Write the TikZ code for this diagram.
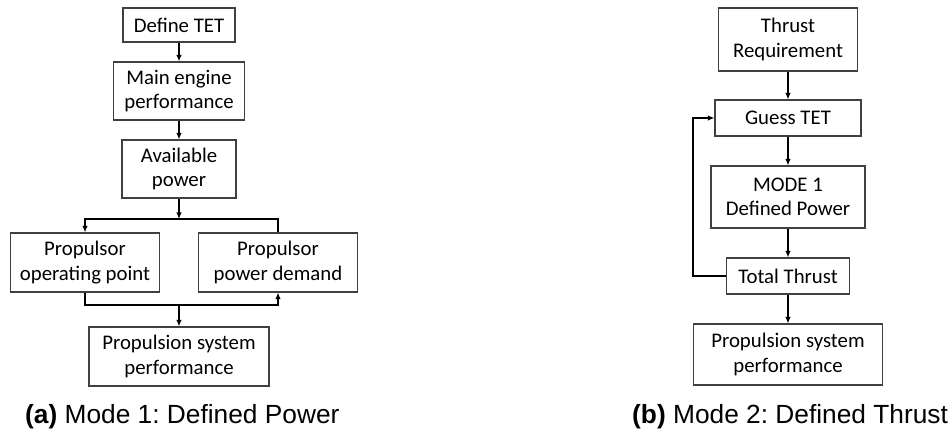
\documentclass[tikz,border=0pt]{standalone}
\usepackage{fontspec}
\setmainfont{Carlito}
\newfontfamily\capfont{Liberation Sans}
\usetikzlibrary{arrows.meta}
\frenchspacing
\definecolor{boxline}{HTML}{404040}
\tikzset{
  box/.style={draw=boxline, line width=1.1pt, fill=white, align=center,
    inner sep=0pt, font=\fontsize{20.8}{24.5}\selectfont},
  conn/.style={line width=1.3pt, black},
  arr/.style={conn, -{Latex[length=6.5pt,width=5.5pt]}},
  caption/.style={anchor=base west, inner sep=0pt, font=\capfont\fontsize{26.3}{30}\selectfont}
}
\begin{document}
\begin{tikzpicture}[x=1pt,y=-1pt]
\useasboundingbox (0,0) rectangle (952,435);

% Mode 1: defined power
\node[box, minimum width=112pt, minimum height=34pt] (def) at (179,25) {Define TET};
\node[box, minimum width=131pt, minimum height=58pt] (main) at (179,91) {Main engine\\performance};
\node[box, minimum width=114pt, minimum height=58pt] (avail) at (179,169) {Available\\power};
\node[box, minimum width=149pt, minimum height=59pt] (pop) at (85,262.5) {Propulsor\\operating point};
\node[box, minimum width=159pt, minimum height=59pt] (ppd) at (278,262.5) {Propulsor\\power demand};
\node[box, minimum width=180pt, minimum height=59pt] (psp) at (179,356.5) {Propulsion system\\performance};

\coordinate (split) at (179,219);
\coordinate (join) at (179,305);

\draw[arr] (def) -- (main);
\draw[arr] (main) -- (avail);
\draw[arr] (avail) -- (split);
\draw[arr] (split) -| (pop);
\draw[conn] (split) -| (ppd);
\draw[conn] (pop) |- (join);
\draw[arr] (join) -| (ppd);
\draw[arr] (join) -- (psp);

\node[caption] (capa) at (25,423) {\textbf{(a)} Mode 1: Defined Power};

% Mode 2: defined thrust
\node[box, minimum width=139pt, minimum height=63pt] (tr) at (788,39.5) {Thrust\\Requirement};
\node[box, minimum width=146pt, minimum height=36pt] (gt) at (788,118) {Guess TET};
\node[box, minimum width=154pt, minimum height=62pt] (m1) at (788,197) {MODE 1\\Defined Power};
\node[box, minimum width=123pt, minimum height=36pt] (tt) at (788,276) {Total Thrust};
\node[box, minimum width=189pt, minimum height=61pt] (psp2) at (788,354.5) {Propulsion system\\performance};

\coordinate (loop) at (693,276);

\draw[arr] (tr) -- (gt);
\draw[arr] (gt) -- (m1);
\draw[arr] (m1) -- (tt);
\draw[arr] (tt) -- (psp2);
\draw[arr] (tt) -- (loop) |- (gt);

\node[caption] (capb) at (632,423) {\textbf{(b)} Mode 2: Defined Thrust};
\end{tikzpicture}
\end{document}
